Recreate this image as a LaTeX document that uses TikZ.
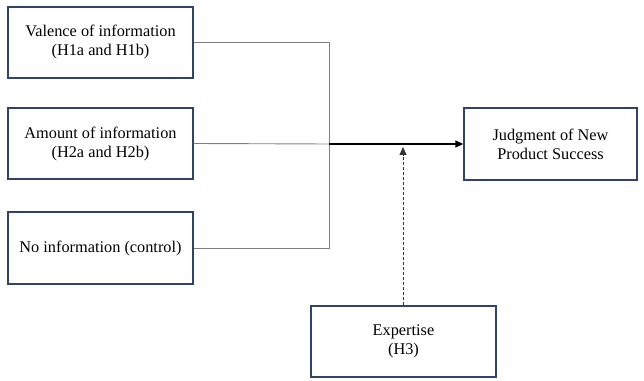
\documentclass[tikz,border=0pt]{standalone}
\usepackage{fontspec}
\setmainfont{Liberation Serif}
\usetikzlibrary{arrows.meta,calc}
\definecolor{navy}{HTML}{2F4468}
\definecolor{linegray}{HTML}{7F7F7F}
\begin{document}
\begin{tikzpicture}[x=1pt,y=1pt,
  box/.style={draw=navy,line width=1.3pt,minimum width=185pt,minimum height=71pt,align=center,font=\rmfamily\fontsize{16.3}{19}\selectfont,inner sep=0pt},
  conn/.style={draw=linegray,line width=0.9pt},
  mainarrow/.style={draw=black,line width=1.3pt,-{Triangle[length=8pt,width=7pt]}},
  modarrow/.style={draw=black!80,line width=0.8pt,dashed,dash pattern=on 3pt off 2pt,-{Triangle[length=8pt,width=7pt]}}]
\useasboundingbox (0,0) rectangle (644,380);
\node[box] (val) at (100.5,337.5) {Valence of information\\(H1a and H1b)};
\node[box] (amt) at (100.5,236.5) {Amount of information\\(H2a and H2b)};
\node[box,minimum height=72pt] (noinf) at (100.5,132) {No information (control)};
\node[box,minimum width=173pt,minimum height=72pt] (judg) at (550.5,236) {Judgment of New\\Product Success};
\node[box] (exp) at (403.5,38.5) {Expertise\\(H3)};
\coordinate (junc) at (329,236);
\coordinate (modtip) at (403,233);
\draw[conn] (val.east) -- (val.east -| junc) -- (noinf.east -| junc) -- (noinf.east);
\draw[conn] (amt.east) -- (junc);
\draw[mainarrow] (junc) -- (judg.west);
\draw[modarrow] (exp.north -| modtip) -- (modtip);
\end{tikzpicture}
\end{document}
